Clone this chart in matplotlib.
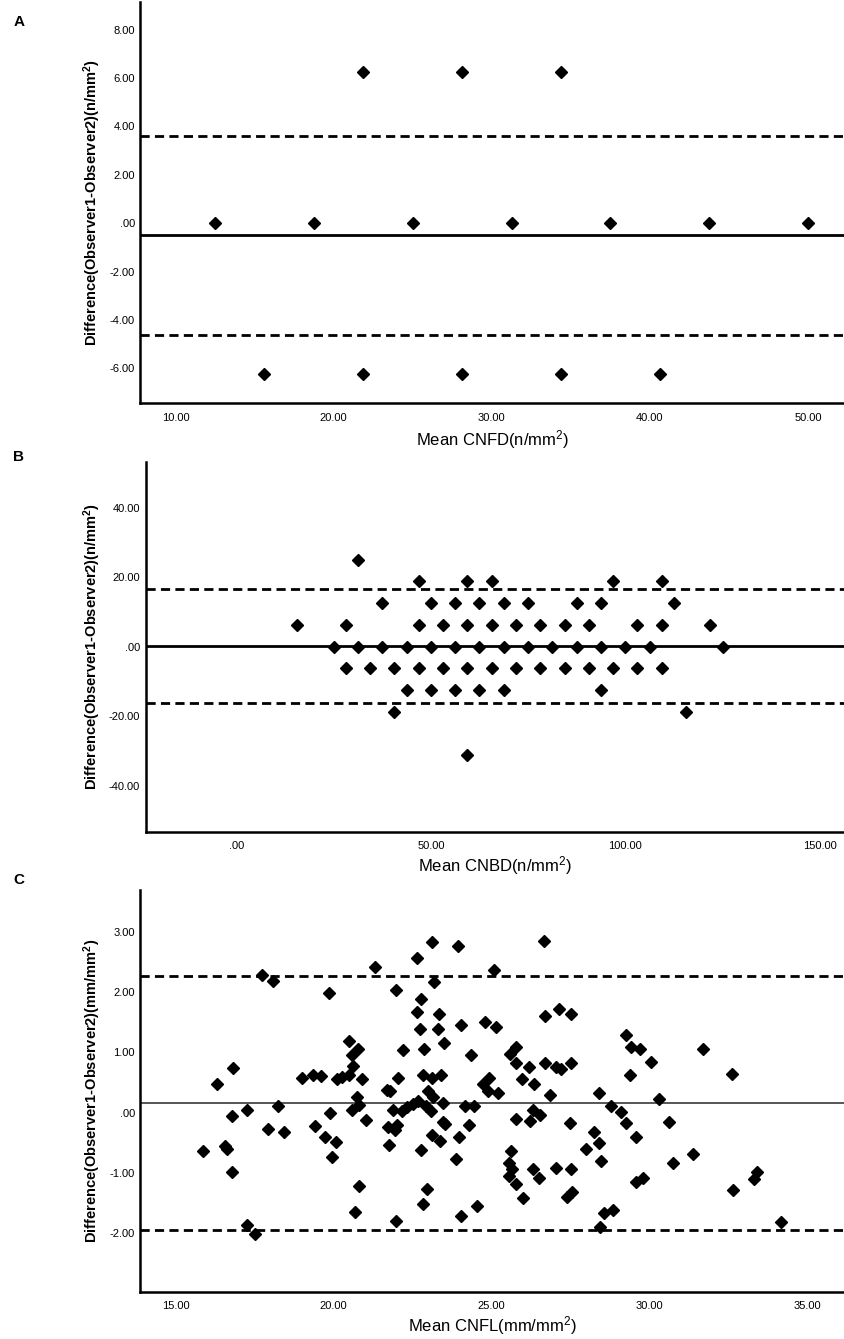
import matplotlib
matplotlib.use("Agg")
import matplotlib.pyplot as plt
from matplotlib.ticker import FuncFormatter, FixedLocator

# ---------------- data ----------------
# Panel A: CNFD
cnfd_mean = [21.875, 28.125, 34.375,
             12.5, 18.75, 25.0, 31.25, 37.5, 43.75, 50.0,
             15.625, 21.875, 28.125, 34.375, 40.625]
cnfd_diff = [6.25, 6.25, 6.25,
             0.0, 0.0, 0.0, 0.0, 0.0, 0.0, 0.0,
             -6.25, -6.25, -6.25, -6.25, -6.25]
cnfd_bias = -0.48
cnfd_loa = [3.62, -4.61]

# Panel B: CNBD
cnbd_mean = [31.25,
             46.875, 59.375, 65.625, 96.875, 109.375,
             37.5, 50.0, 56.25, 62.5, 68.75, 75.0, 87.5, 93.75, 112.5,
             15.625, 28.125, 46.875, 53.125, 59.375, 65.625, 71.875, 78.125, 84.375, 90.625, 103.125, 109.375, 121.875,
             25.0, 31.25, 37.5, 43.75, 50.0, 56.25, 62.5, 68.75, 75.0, 81.25, 87.5, 93.75, 100.0, 106.25, 125.0,
             28.125, 34.375, 40.625, 46.875, 53.125, 59.375, 65.625, 71.875, 78.125, 84.375, 90.625, 96.875, 103.125, 109.375,
             43.75, 50.0, 56.25, 62.5, 68.75, 93.75,
             40.625, 115.625,
             59.375]
cnbd_diff = [25.0,
             18.75, 18.75, 18.75, 18.75, 18.75,
             12.5, 12.5, 12.5, 12.5, 12.5, 12.5, 12.5, 12.5, 12.5,
             6.25, 6.25, 6.25, 6.25, 6.25, 6.25, 6.25, 6.25, 6.25, 6.25, 6.25, 6.25, 6.25,
             0.0, 0.0, 0.0, 0.0, 0.0, 0.0, 0.0, 0.0, 0.0, 0.0, 0.0, 0.0, 0.0, 0.0, 0.0,
             -6.25, -6.25, -6.25, -6.25, -6.25, -6.25, -6.25, -6.25, -6.25, -6.25, -6.25, -6.25, -6.25, -6.25,
             -12.5, -12.5, -12.5, -12.5, -12.5, -12.5,
             -18.75, -18.75,
             -31.25]
cnbd_bias = 0.24
cnbd_loa = [16.6, -16.15]

# Panel C: CNFL
cnfl_mean = [16.30, 16.82, 17.72, 18.07, 18.99, 19.36, 19.60, 19.85, 20.11, 20.27,
             20.49, 20.49, 20.78, 20.59, 20.62, 20.89, 20.75, 21.32, 21.68, 21.80,
             21.99, 22.05, 22.20, 22.65, 22.76, 22.63, 22.73, 22.85, 22.82, 23.12,
             23.17, 23.34, 23.31, 23.49, 23.13, 23.39, 23.00, 23.15, 23.94, 24.05,
             24.34, 24.81, 25.14, 25.07, 24.72, 24.93, 24.89, 25.21,
             15.87, 16.56, 16.61, 16.78, 16.78, 17.27, 18.23, 17.93, 18.43, 17.27,
             17.52, 19.42, 19.90, 19.74, 20.09, 19.94, 20.58, 20.79, 21.02, 20.81,
             20.67, 21.89, 21.73, 22.02, 21.94, 21.76, 21.99, 22.17, 22.31, 22.50,
             22.68, 22.94, 23.08, 23.13, 23.36, 23.45, 23.52, 23.45, 22.78, 22.96,
             22.84, 23.97, 23.87, 24.17, 24.45, 24.29, 24.03, 24.55,
             26.67, 26.71, 27.14, 27.51, 25.77, 25.58, 25.77, 26.19, 26.71, 27.06,
             27.20, 27.51, 25.98, 26.35, 26.85, 28.40, 29.25, 29.41, 29.70, 30.04,
             29.40, 30.30, 31.70, 32.62,
             25.79, 26.22, 26.32, 26.53, 27.48, 25.63, 25.56, 25.65, 25.56, 25.77,
             26.00, 26.32, 26.50, 27.03, 27.51, 27.40, 27.56, 28.24, 28.41, 27.99,
             28.48, 28.80, 29.12, 29.25, 29.59, 30.61, 30.75, 31.38, 29.59, 29.80,
             28.57, 28.85, 28.45, 32.65, 33.33, 33.41, 34.18]
cnfl_diff = [0.48, 0.74, 2.28, 2.18, 0.57, 0.62, 0.61, 1.98, 0.55, 0.59,
             0.62, 1.19, 1.06, 0.95, 0.78, 0.55, 0.25, 2.41, 0.38, 0.35,
             2.03, 0.58, 1.04, 2.56, 1.89, 1.66, 1.38, 1.05, 0.63, 2.83,
             2.17, 1.64, 1.38, 1.16, 0.58, 0.63, 0.36, 0.25, 2.76, 1.45,
             0.96, 1.50, 1.42, 2.36, 0.48, 0.57, 0.36, 0.32,
             -0.63, -0.55, -0.61, -0.99, -0.06, 0.04, 0.11, -0.27, -0.32, -1.86,
             -2.02, -0.22, -0.01, -0.40, -0.48, -0.73, 0.05, 0.12, -0.12, -1.22,
             -1.65, 0.04, -0.24, -0.21, -0.29, -0.53, -1.80, 0.03, 0.09, 0.15,
             0.19, 0.11, 0.03, -0.37, -0.47, -0.15, -0.19, 0.16, -0.62, -1.27,
             -1.51, -0.41, -0.77, 0.11, 0.11, -0.21, -1.72, -1.55,
             2.85, 1.60, 1.71, 1.64, 1.09, 0.97, 0.83, 0.75, 0.82, 0.75,
             0.72, 0.82, 0.55, 0.47, 0.29, 0.32, 1.29, 1.09, 1.06, 0.84,
             0.63, 0.22, 1.05, 0.64,
             -0.11, -0.14, 0.05, -0.04, -0.18, -0.64, -0.84, -0.93, -1.06, -1.19,
             -1.41, -0.93, -1.08, -0.92, -0.94, -1.40, -1.31, -0.32, -0.50, -0.61,
             -0.80, 0.11, 0.01, -0.18, -0.41, -0.15, -0.84, -0.69, -1.15, -1.08,
             -1.67, -1.61, -1.89, -1.29, -1.10, -0.98, -1.81]
cnfl_bias = 0.16
cnfl_loa = [2.27, -1.95]

xlabels = ["Mean CNFD(n/mm$^2$)", "Mean CNBD(n/mm$^2$)", "Mean CNFL(mm/mm$^2$)"]
ylabels = ["Difference(Observer1-Observer2)(n/mm$^2$)",
           "Difference(Observer1-Observer2)(n/mm$^2$)",
           "Difference(Observer1-Observer2)(mm/mm$^2$)"]
panel_letters = ["A", "B", "C"]

xticks_list = [[10, 20, 30, 40, 50], [0, 50, 100, 150], [15, 20, 25, 30, 35]]
yticks_list = [[-6, -4, -2, 0, 2, 4, 6, 8], [-40, -20, 0, 20, 40], [-3, -2, -1, 0, 1, 2, 3]]

# ---------------- style ----------------
plt.rcParams['mathtext.default'] = 'regular'
narrow = ['Liberation Sans Narrow', 'Liberation Sans', 'DejaVu Sans']
wide = ['Liberation Sans', 'DejaVu Sans']
plt.rcParams['font.family'] = narrow

W, H = 845, 1339
fig = plt.figure(figsize=(W / 100, H / 100), dpi=100)


def fig_rect(left_px, top_px, right_px, bottom_px):
    return [left_px / W, 1 - bottom_px / H, (right_px - left_px) / W, (bottom_px - top_px) / H]


def spss_fmt(v, pos):
    s = f"{v:.2f}"
    if s in ("0.00", "-0.00"):
        return ".00"
    return s


rects = [fig_rect(140.4, 2, 845, 403),
         fig_rect(145.8, 461.7, 845, 831.7),
         fig_rect(140.4, 890, 845, 1291.7)]
xlims = [(7.78, 52.34), (-23.3, 156.5), (13.88, 36.2)]
ylims = [(-7.43, 9.14), (-53.2, 53.2), (-2.97, 3.69)]
means = [cnfd_mean, cnbd_mean, cnfl_mean]
diffs = [cnfd_diff, cnbd_diff, cnfl_diff]
biases = [cnfd_bias, cnbd_bias, cnfl_bias]
loas = [cnfd_loa, cnbd_loa, cnfl_loa]
bias_lw = [2.0, 2.0, 1.2]
bias_col = ['black', 'black', '#3a3a3a']
marker_size = [6.2, 6.2, 5.8]
ylabel_y = [202.5, 646.7, 1091]
xlabel_y = [440, 866, 1326]
letter_y = [22, 457, 880]

for i in range(3):
    ax = fig.add_axes(rects[i])
    ax.set_xlim(*xlims[i])
    ax.set_ylim(*ylims[i])
    for s in ['top', 'right']:
        ax.spines[s].set_visible(False)
    for s in ['left', 'bottom']:
        ax.spines[s].set_linewidth(1.8)
        ax.spines[s].set_color('black')
    ax.xaxis.set_major_locator(FixedLocator(xticks_list[i]))
    ax.yaxis.set_major_locator(FixedLocator(yticks_list[i]))
    ax.xaxis.set_major_formatter(FuncFormatter(spss_fmt))
    ax.yaxis.set_major_formatter(FuncFormatter(spss_fmt))
    ax.tick_params(axis='both', length=0, labelsize=8)
    ax.tick_params(axis='x', pad=7)
    ax.tick_params(axis='y', pad=4)
    ax.axhline(biases[i], color=bias_col[i], lw=bias_lw[i], zorder=2)
    for v in loas[i]:
        ax.axhline(v, color='black', lw=2.0, dashes=(3.3, 1.9), zorder=2)
    ax.plot(means[i], diffs[i], linestyle='none', marker='D', ms=marker_size[i],
            color='black', zorder=3, clip_on=False)
    # labels
    fig.text(492.5 / W if i != 1 else 495 / W, 1 - xlabel_y[i] / H, xlabels[i],
             ha='center', va='center', fontsize=12, family=narrow)
    fig.text(92 / W, 1 - ylabel_y[i] / H, ylabels[i], rotation=90,
             ha='center', va='center', fontsize=10.5, fontweight='bold', family=wide)
    fig.text(19 / W, 1 - letter_y[i] / H, panel_letters[i], ha='center', va='center',
             fontsize=11, fontweight='bold', family=wide)

fig.savefig("out.png", dpi=100)
